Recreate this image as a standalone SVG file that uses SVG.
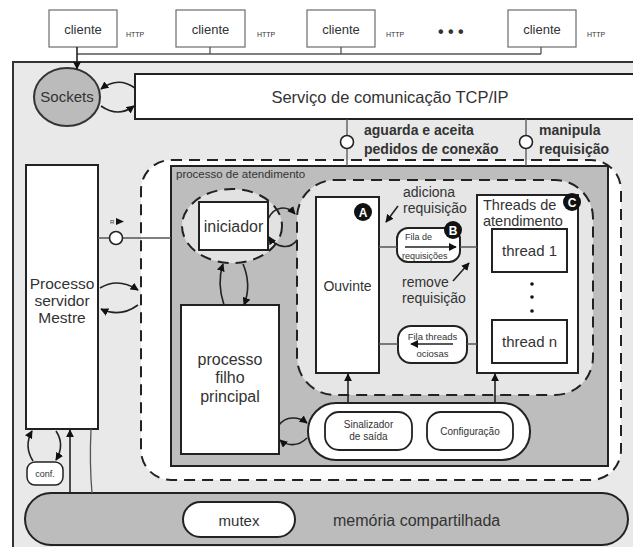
<svg xmlns="http://www.w3.org/2000/svg" width="633" height="547" viewBox="0 0 633 547">
<defs>
<marker id="ah" viewBox="0 0 10 10" refX="9" refY="5" markerWidth="8" markerHeight="8" orient="auto" markerUnits="userSpaceOnUse"><path d="M0,0 L10,5 L0,10 z" fill="#111"/></marker>
</defs>
<style>
.t{font-family:"Liberation Sans",Arial,sans-serif;fill:#333}
.c{text-anchor:middle}
.b{font-weight:bold}
.box{fill:#fff;stroke:#222;stroke-width:2}
.dash{stroke:#222;stroke-width:2;stroke-dasharray:11 7}
.ln{stroke:#555;stroke-width:1.3;fill:none}
.ar{stroke:#222;stroke-width:1.6;fill:none;marker-end:url(#ah)}
.blk{fill:#111}
.lt{font-family:"Liberation Sans",Arial,sans-serif;fill:#fff;font-weight:bold;font-size:12px;text-anchor:middle}
</style>
<rect x="0" y="0" width="633" height="547" fill="#fff"/>
<g id="panel"><rect x="13" y="62" width="640" height="500" fill="#e9e9e9" stroke="#333" stroke-width="2"/></g>

<g id="clientes">
<rect x="49" y="10" width="68" height="37" fill="#fff" stroke="#777" stroke-width="1.3"/>
<text class="t c" x="83" y="34" font-size="13">cliente</text>
<text class="t" x="126" y="37" font-size="7">HTTP</text>
<rect x="176" y="10" width="69" height="37" fill="#fff" stroke="#777" stroke-width="1.3"/>
<text class="t c" x="210.5" y="34" font-size="13">cliente</text>
<text class="t" x="257" y="37" font-size="7">HTTP</text>
<rect x="307" y="10" width="68" height="37" fill="#fff" stroke="#777" stroke-width="1.3"/>
<text class="t c" x="341" y="34" font-size="13">cliente</text>
<text class="t" x="386" y="37" font-size="7">HTTP</text>
<text class="t b" x="438" y="37" font-size="16" fill="#222">• • •</text>
<rect x="508" y="10" width="68" height="37" fill="#fff" stroke="#777" stroke-width="1.3"/>
<text class="t c" x="542" y="34" font-size="13">cliente</text>
<text class="t" x="587" y="37" font-size="7">HTTP</text>
</g>

<g id="white-region"><rect x="141" y="160" width="480" height="320" rx="30" fill="#fff" class="dash"/></g>

<g id="tcp">
<rect x="135" y="74" width="510" height="45" class="box"/>
<text class="t c" x="390" y="103" font-size="16.5">Serviço de comunicação TCP/IP</text>
</g>
<g id="sockets">
<ellipse cx="67" cy="97" rx="33" ry="29" fill="#bbb" stroke="#333" stroke-width="2"/>
<text class="t c" x="67" y="102" font-size="15">Sockets</text>
</g>

<g id="atendimento">
<rect x="171" y="166" width="437" height="300" fill="#bdbdbd" stroke="#222" stroke-width="2"/>
<text class="t" x="176" y="178" font-size="11.5">processo de atendimento</text>
</g>

<g id="iniciador">
<ellipse cx="232" cy="226" rx="50" ry="37" fill="#e2e2e2" class="dash"/>
<rect x="199" y="202" width="69" height="48" class="box"/>
<text class="t c" x="233.5" y="232" font-size="16">iniciador</text>
</g>

<g id="inner-region"><rect x="297" y="180" width="296" height="215" rx="38" fill="#e6e6e6" class="dash"/></g>

<g id="ouvinte">
<rect x="316" y="197" width="63" height="176" class="box"/>
<text class="t c" x="347.5" y="291" font-size="14">Ouvinte</text>
<circle cx="363" cy="212" r="9" class="blk"/>
<text class="lt" x="363" y="216.5">A</text>
</g>

<g id="fila-req">
<rect x="397" y="228" width="63" height="34" rx="11" class="box"/>
<text class="t" x="405" y="240" font-size="9" fill="#666">Fila de</text>
<text class="t" x="402" y="259" font-size="9" fill="#666">requisições</text>
<circle cx="453" cy="230" r="9" class="blk"/>
<text class="lt" x="453" y="234.5">B</text>
</g>

<g id="threads">
<rect x="477" y="195" width="101" height="178" class="box"/>
<text class="t" x="483" y="210" font-size="14.5">Threads de</text>
<text class="t" x="483" y="226" font-size="14.5">atendimento</text>
<circle cx="572" cy="202" r="9" class="blk"/>
<text class="lt" x="572" y="206.5">C</text>
<rect x="492" y="229" width="75" height="43" class="box"/>
<text class="t c" x="529.5" y="256" font-size="15">thread 1</text>
<circle cx="532" cy="284" r="1.8" class="blk"/>
<circle cx="532" cy="297" r="1.8" class="blk"/>
<circle cx="532" cy="311" r="1.8" class="blk"/>
<rect x="492" y="320" width="75" height="43" class="box"/>
<text class="t c" x="529.5" y="347" font-size="15">thread n</text>
</g>

<g id="fila-ociosas">
<rect x="398" y="326" width="69" height="37" rx="13" class="box"/>
<text class="t c" x="432.5" y="340" font-size="9.5" fill="#666">Fila threads</text>
<text class="t c" x="432.5" y="357" font-size="9.5" fill="#666">ociosas</text>
</g>

<g id="container">
<rect x="308" y="403" width="222" height="57" rx="28" class="box"/>
<rect x="325" y="412" width="87" height="38" rx="14" fill="#fff" stroke="#222" stroke-width="1.8"/>
<text class="t c" x="368.5" y="428" font-size="10">Sinalizador</text>
<text class="t c" x="368.5" y="440" font-size="10">de saída</text>
<rect x="427" y="412" width="86" height="38" rx="14" fill="#fff" stroke="#222" stroke-width="1.8"/>
<text class="t c" x="470" y="435" font-size="10">Configuração</text>
</g>

<g id="filho">
<rect x="181" y="305" width="98" height="149" class="box"/>
<text class="t c" x="230" y="365" font-size="16">processo</text>
<text class="t c" x="230" y="383" font-size="16">filho</text>
<text class="t c" x="230" y="402" font-size="16">principal</text>
</g>

<g id="mestre">
<rect x="26" y="165" width="72" height="264" class="box"/>
<text class="t c" x="62" y="289" font-size="15.5" fill="#555">Processo</text>
<text class="t c" x="62" y="306" font-size="15.5" fill="#555">servidor</text>
<text class="t c" x="62" y="323" font-size="15.5" fill="#555">Mestre</text>
</g>

<g id="conf">
<rect x="27" y="462" width="36" height="23" rx="8" fill="#fff" stroke="#222" stroke-width="1.5"/>
<text class="t c" x="45" y="477" font-size="9" fill="#555">conf.</text>
</g>

<g id="memoria">
<rect x="25" y="493" width="603" height="52" rx="26" fill="#bcbcbc" stroke="#222" stroke-width="2"/>
<rect x="183" y="502" width="112" height="35" rx="17.5" class="box"/>
<text class="t c" x="239" y="526" font-size="15">mutex</text>
<text class="t" x="333" y="526" font-size="16">memória compartilhada</text>
</g>

<g id="connectors">
<path class="ln" d="M77,54 H541 M210,47 V54 M341,47 V54 M541,47 V54"/>
<path class="ar" d="M77,47 V69" stroke-width="1.3"/>
<path class="ar" d="M135,88 Q118,76 101,89"/>
<path class="ar" d="M101,106 Q118,118 134,106"/>
<path class="ln" d="M347,119 V166 M526,119 V166"/>
<circle cx="347" cy="142" r="6.5" fill="#fff" stroke="#222" stroke-width="1.6"/>
<circle cx="526" cy="142" r="6.5" fill="#fff" stroke="#222" stroke-width="1.6"/>
<path class="ln" d="M98,238 H171"/>
<circle cx="116" cy="238" r="6.5" fill="#fff" stroke="#222" stroke-width="1.6"/>
<text class="t" x="110" y="224" font-size="6" fill="#777">R</text>
<polygon points="116,218 124,221.5 116,225" class="blk"/>
<path class="ar" d="M100,288 Q118,277 138,290"/>
<path class="ar" d="M138,305 Q120,318 101,309"/>
<path class="ar" d="M224,305 C219,290 219,276 223,264"/>
<path class="ar" d="M243,264 C249,278 249,292 244,305"/>
<path class="ar" d="M268,219 C274,206 287,205 295,214"/>
<path class="ar" d="M297,240 C290,250 276,248 269,237"/>
<path class="ar" d="M279,425 C286,416 298,416 307,423"/>
<path class="ar" d="M307,438 C298,447 287,446 280,440"/>
<path class="ln" d="M379,247 H397 M460,247 H477 M379,344 H398 M467,344 H477" stroke="#222" stroke-width="1.6"/>
<path class="ar" d="M405,247 H456"/>
<path class="ar" d="M453,344 H411"/>
<path class="ar" d="M398,206 L386,222"/>
<path class="ar" d="M453,281 L469,263"/>
<path class="ar" d="M348,403 V374"/>
<path class="ar" d="M495,403 V374"/>
<path class="ar" d="M33,461 C26,450 27,440 32,431"/>
<path class="ar" d="M56,431 C62,440 62,450 56,460"/>
<path class="ar" d="M70,493 V430"/>
<path class="ln" d="M92,493 C90,470 90,450 91,429" stroke="#222" stroke-width="1.6"/>
<text class="t b" x="364" y="135" font-size="14">aguarda e aceita</text>
<text class="t b" x="364" y="154" font-size="14">pedidos de conexão</text>
<text class="t b" x="539" y="135" font-size="14">manipula</text>
<text class="t b" x="539" y="154" font-size="14">requisição</text>
<text class="t" x="403" y="197" font-size="14">adiciona</text>
<text class="t" x="403" y="213" font-size="14">requisição</text>
<text class="t" x="402" y="287" font-size="14">remove</text>
<text class="t" x="402" y="303" font-size="14">requisição</text>
</g>
</svg>
